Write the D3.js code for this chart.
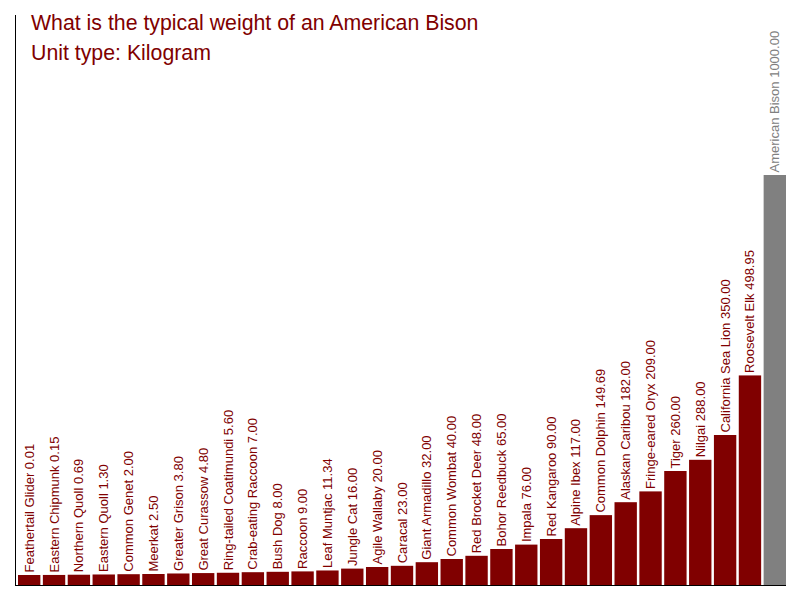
<!DOCTYPE html>
<html>
<head>
<meta charset="utf-8">
<script src="https://cdn.jsdelivr.net/npm/d3@7"></script>
<style>
  html, body { margin: 0; padding: 0; background: #fff; }
  svg { display: block; font-family: "Liberation Sans", Arial, sans-serif; }
</style>
</head>
<body>
<svg id="chart" width="800" height="600"></svg>
<script>
const categories = [
  "Feathertail Glider", "Eastern Chipmunk", "Northern Quoll", "Eastern Quoll",
  "Common Genet", "Meerkat", "Greater Grison", "Great Curassow",
  "Ring-tailed Coatimundi", "Crab-eating Raccoon", "Bush Dog", "Raccoon",
  "Leaf Muntjac", "Jungle Cat", "Agile Wallaby", "Caracal",
  "Giant Armadillo", "Common Wombat", "Red Brocket Deer", "Bohor Reedbuck",
  "Impala", "Red Kangaroo", "Alpine Ibex", "Common Dolphin",
  "Alaskan Caribou", "Fringe-eared Oryx", "Tiger", "Nilgai",
  "California Sea Lion", "Roosevelt Elk", "American Bison"
];
const weights = [
  0.01, 0.15, 0.69, 1.30,
  2.00, 2.50, 3.80, 4.80,
  5.60, 7.00, 8.00, 9.00,
  11.34, 16.00, 20.00, 23.00,
  32.00, 40.00, 48.00, 65.00,
  76.00, 90.00, 117.00, 149.69,
  182.00, 209.00, 260.00, 288.00,
  350.00, 498.95, 1000.00
];
const highlight = "American Bison";
const titleLines = ["What is the typical weight of an American Bison", "Unit type: Kilogram"];

const data = categories.map((c, i) => ({ name: c, value: weights[i] }));
const svg = d3.select("#chart");

const x = d3.scaleBand().domain(categories).range([18, 786]).paddingInner(0.1).paddingOuter(0);
const y = d3.scaleLinear().domain([-25, 1000]).range([585, 175]);

const dark = "#800000", grey = "#808080";

// axis lines
svg.append("line").attr("x1", 15.5).attr("x2", 15.5).attr("y1", 15).attr("y2", 586)
  .attr("stroke", "#000").attr("stroke-width", 1);
svg.append("line").attr("x1", 15).attr("x2", 786).attr("y1", 585.5).attr("y2", 585.5)
  .attr("stroke", "#000").attr("stroke-width", 1);

svg.selectAll("rect.bar").data(data).enter().append("rect")
  .attr("class", "bar")
  .attr("x", d => x(d.name))
  .attr("width", x.bandwidth())
  .attr("y", d => y(d.value))
  .attr("height", d => y(-25) - y(d.value))
  .attr("fill", d => d.name === highlight ? grey : dark);

svg.selectAll("text.lbl").data(data).enter().append("text")
  .attr("class", "lbl")
  .attr("transform", d => `translate(${x(d.name) + x.bandwidth() / 2 + 4.5},${y(d.value) - 2.5}) rotate(-90)`)
  .attr("font-size", "13px")
  .attr("fill", d => d.name === highlight ? grey : dark)
  .text(d => `${d.name} ${d.value.toFixed(2)}`);

svg.selectAll("text.title").data(titleLines).enter().append("text")
  .attr("class", "title")
  .attr("x", 31)
  .attr("y", (d, i) => 30 + i * 30)
  .attr("font-size", "21.3px")
  .attr("fill", dark)
  .text(d => d);
</script>
</body>
</html>
